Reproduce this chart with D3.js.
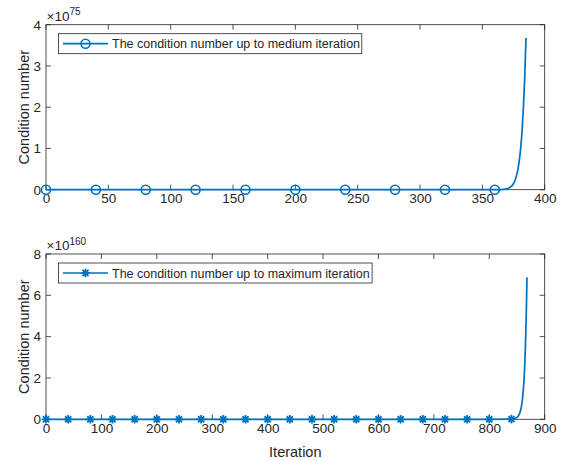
<!DOCTYPE html>
<html>
<head>
<meta charset="utf-8">
<script src="https://cdn.jsdelivr.net/npm/d3@7"></script>
<style>
  html, body { margin: 0; padding: 0; background: #ffffff; }
  svg { display: block; font-family: "Liberation Sans", Arial, Helvetica, sans-serif; }
</style>
</head>
<body>
<svg id="chart" width="565" height="461"></svg>
<script>
// Condition number per iteration, run up to the medium iteration count
const medIter = [0, 40, 80, 120, 160, 200, 240, 280, 320, 360, 365, 368, 370, 371, 372, 373, 374, 375,
  376, 377, 378, 379, 380, 381, 382, 383, 384, 385];
const medCond = [0, 0, 0, 0, 0, 0, 0, 0, 0, 5e71, 4e72, 1.2e73, 2.5e73, 3.6e73, 5.2e73, 7.4e73, 1.05e74, 1.5e74,
  2.1e74, 3.0e74, 4.2e74, 5.8e74, 8.0e74, 1.1e75, 1.5e75, 2.05e75, 2.75e75, 3.68e75];
const medXTicks = [0, 50, 100, 150, 200, 250, 300, 350, 400];
const medYTicks = [0, 1, 2, 3, 4];
const medExp = 75;

// Condition number per iteration, run up to the maximum iteration count
const maxIter = [0, 40, 80, 120, 160, 200, 240, 280, 320, 360, 400, 440, 480, 520, 560, 600, 640, 680,
  720, 760, 800, 840, 845, 848, 850, 852, 853, 854, 855, 856, 857, 858, 859, 860, 861, 862, 863, 864,
  865, 866, 867, 868];
const maxCond = [0, 0, 0, 0, 0, 0, 0, 0, 0, 0, 0, 0, 0, 0, 0, 0, 0, 0,
  0, 0, 0, 8e157, 3e158, 6e158, 9e158, 1.5e159, 1.9e159, 2.4e159, 3.1e159, 3.9e159, 5.0e159, 6.3e159,
  8.0e159, 1.02e160, 1.29e160, 1.64e160, 2.08e160, 2.65e160, 3.36e160, 4.27e160, 5.42e160, 6.88e160];
const maxXTicks = [0, 100, 200, 300, 400, 500, 600, 700, 800, 900];
const maxYTicks = [0, 2, 4, 6, 8];
const maxExp = 160;

const legendLabels = [
  "The condition number up to medium iteration",
  "The condition number up to maximum iteration"
];

const lineColor = "#0072BD";
const axisColor = "#262626";
const svg = d3.select("#chart");

function starPath(s) {
  const d = s * 0.7071;
  return `M0,${-s}L0,${s}M${-s},0L${s},0M${-d},${-d}L${d},${d}M${-d},${d}L${d},${-d}`;
}

function drawMarker(g, kind, x, y) {
  if (kind === "circle") {
    g.append("circle").attr("cx", x).attr("cy", y).attr("r", 4.5)
      .attr("fill", "none").attr("stroke", lineColor).attr("stroke-width", 1.6);
  } else {
    g.append("path").attr("d", starPath(4.3)).attr("transform", `translate(${x},${y})`)
      .attr("fill", "none").attr("stroke", lineColor).attr("stroke-width", 1.8);
  }
}

function panel(opts) {
  const { iters, conds, xTicks, yTicks, exp, left, right, top, bottom, marker, label, legendW } = opts;
  const unit = Math.pow(10, exp);
  const x = d3.scaleLinear().domain([xTicks[0], xTicks[xTicks.length - 1]]).range([left, right]);
  const y = d3.scaleLinear().domain([0, yTicks[yTicks.length - 1] * unit]).range([bottom, top]);
  const g = svg.append("g");

  // tick marks on all four sides, pointing inward
  const tl = 5;
  const ax = g.append("g").attr("stroke", axisColor).attr("stroke-width", 0.8);
  xTicks.forEach(t => {
    const px = x(t);
    ax.append("line").attr("x1", px).attr("x2", px).attr("y1", bottom).attr("y2", bottom - tl);
    ax.append("line").attr("x1", px).attr("x2", px).attr("y1", top).attr("y2", top + tl);
  });
  yTicks.forEach(t => {
    const py = y(t * unit);
    ax.append("line").attr("x1", left).attr("x2", left + tl).attr("y1", py).attr("y2", py);
    ax.append("line").attr("x1", right).attr("x2", right - tl).attr("y1", py).attr("y2", py);
  });
  ax.append("rect").attr("x", left).attr("y", top).attr("width", right - left).attr("height", bottom - top)
    .attr("fill", "none");

  // tick labels
  const xAxis = d3.axisBottom(x).tickValues(xTicks).tickSize(0).tickPadding(0).tickFormat(d3.format("d"));
  const xg = g.append("g").attr("transform", `translate(0,${bottom + 4})`).call(xAxis);
  xg.select(".domain").remove();
  xg.selectAll("text").attr("font-size", 13.5).attr("fill", axisColor).attr("dy", "0.71em")
    .attr("font-family", "Liberation Sans, Arial, sans-serif");

  const yAxis = d3.axisLeft(y).tickValues(yTicks.map(v => v * unit)).tickSize(0).tickPadding(0)
    .tickFormat(v => String(Math.round(v / unit)));
  const yg = g.append("g").attr("transform", `translate(${left - 5},0)`).call(yAxis);
  yg.select(".domain").remove();
  yg.selectAll("text").attr("font-size", 13.5).attr("fill", axisColor)
    .attr("font-family", "Liberation Sans, Arial, sans-serif");

  // exponent multiplier above the y axis
  const ex = g.append("text").attr("x", left + 0.5).attr("y", top - 4).attr("fill", axisColor).attr("font-size", 13.5);
  ex.append("tspan").text("\u00d710");
  ex.append("tspan").attr("font-size", 10).attr("dy", -5.5).text(String(exp));

  // y axis title
  g.append("text").attr("transform", `translate(${left - 17.5},${(top + bottom) / 2}) rotate(-90)`)
    .attr("text-anchor", "middle").attr("font-size", 14.5).attr("fill", axisColor).text("Condition number");

  // series line
  const pts = iters.map((it, i) => ({ it, v: conds[i] }));
  g.append("path").datum(pts)
    .attr("d", d3.line().x(d => x(d.it)).y(d => y(d.v)).curve(d3.curveMonotoneX))
    .attr("fill", "none").attr("stroke", lineColor).attr("stroke-width", 1.7);
  const mg = g.append("g");
  pts.filter(d => d.it % 40 === 0).forEach(d => drawMarker(mg, marker, x(d.it), y(d.v)));

  // legend
  const lx = left + 12.5, ly = top + 9, lh = 20;
  const lg = g.append("g");
  lg.append("rect").attr("x", lx).attr("y", ly).attr("width", legendW).attr("height", lh)
    .attr("fill", "#fff").attr("stroke", axisColor).attr("stroke-width", 0.8);
  lg.append("line").attr("x1", lx + 4.5).attr("x2", lx + 49.5).attr("y1", ly + lh / 2).attr("y2", ly + lh / 2)
    .attr("stroke", lineColor).attr("stroke-width", 1.7);
  drawMarker(lg, marker, lx + 27, ly + lh / 2);
  lg.append("text").attr("x", lx + 53.5).attr("y", ly + lh / 2).attr("dy", "0.36em")
    .attr("font-size", 12.5).attr("fill", axisColor).text(label);
}

panel({ iters: medIter, conds: medCond, xTicks: medXTicks, yTicks: medYTicks, exp: medExp,
  left: 46, right: 544.7, top: 24.7, bottom: 189.7, marker: "circle", label: legendLabels[0], legendW: 303.3 });
panel({ iters: maxIter, conds: maxCond, xTicks: maxXTicks, yTicks: maxYTicks, exp: maxExp,
  left: 46, right: 544.7, top: 254, bottom: 419.3, marker: "star", label: legendLabels[1], legendW: 313.6 });

// shared x axis title
svg.append("text").attr("x", 295.3).attr("y", 456.5).attr("text-anchor", "middle")
  .attr("font-size", 14.5).attr("fill", axisColor).text("Iteration");
</script>
</body>
</html>
